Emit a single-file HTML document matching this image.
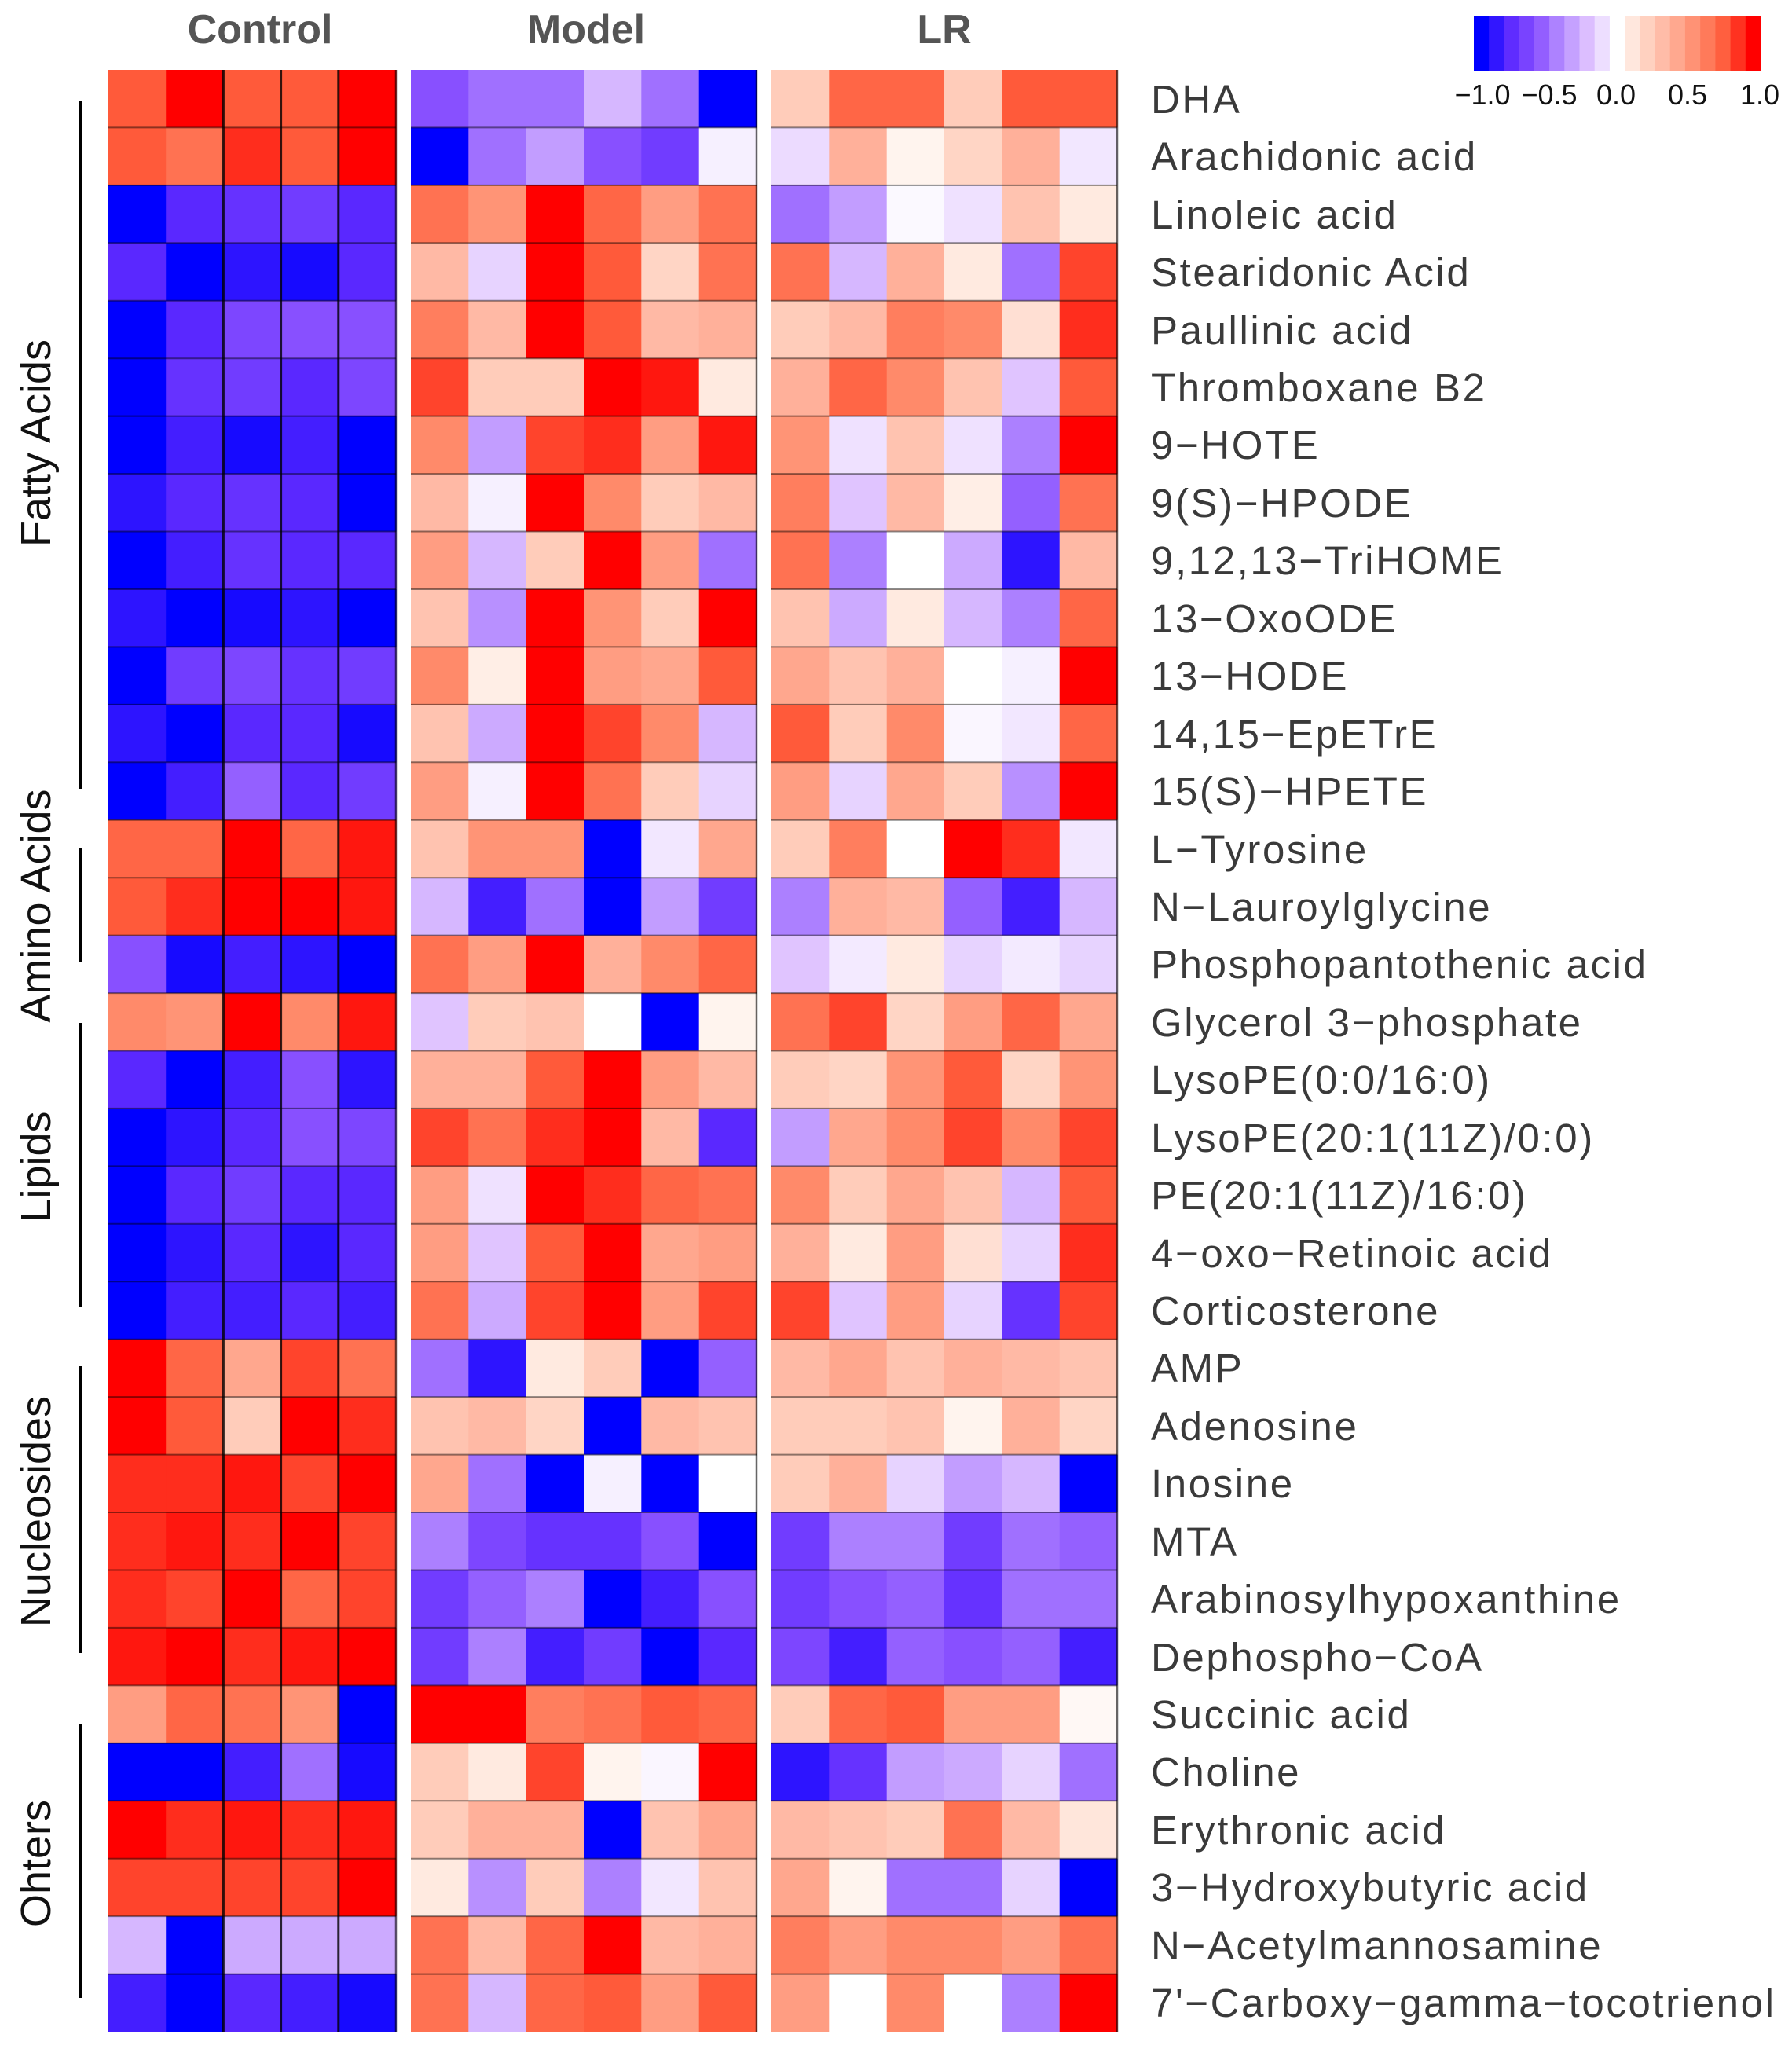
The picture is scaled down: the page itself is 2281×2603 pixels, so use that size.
<!DOCTYPE html>
<html><head><meta charset="utf-8">
<style>
html,body{margin:0;padding:0;background:#fff;}
#wrap{position:relative;width:2281px;height:2603px;overflow:hidden;font-family:"Liberation Sans",sans-serif;}
.lab{position:absolute;left:1465px;font-size:51px;letter-spacing:2.6px;color:#3a3a3a;line-height:1;white-space:nowrap;}
.ttl{position:absolute;top:8px;font-size:52px;font-weight:bold;color:#555;transform:translateX(-50%);}
.grp{position:absolute;left:46px;font-size:54px;color:#111;white-space:nowrap;transform:translate(-50%,-50%) rotate(-90deg);}
.tick{position:absolute;top:100px;font-size:36px;color:#111;transform:translateX(-50%);}
</style></head><body>
<div id="wrap">
<svg id="sv" width="2281" height="2603" style="position:absolute;left:0;top:0"></svg>
<div class="ttl" style="left:331px">Control</div>
<div class="ttl" style="left:746px">Model</div>
<div class="ttl" style="left:1202px">LR</div>
<div class="tick" style="left:1887px">−1.0</div>
<div class="tick" style="left:1972px">−0.5</div>
<div class="tick" style="left:2057px">0.0</div>
<div class="tick" style="left:2148px">0.5</div>
<div class="tick" style="left:2240px">1.0</div>
<div class="grp" style="top:564px">Fatty Acids</div>
<div class="grp" style="top:1153px">Amino Acids</div>
<div class="grp" style="top:1485px">Lipids</div>
<div class="grp" style="top:1924px">Nucleosides</div>
<div class="grp" style="top:2372px">Ohters</div>
<div id="labs">
<div class="lab" style="top:101px">DHA</div>
<div class="lab" style="top:174px">Arachidonic acid</div>
<div class="lab" style="top:248px">Linoleic acid</div>
<div class="lab" style="top:321px">Stearidonic Acid</div>
<div class="lab" style="top:395px">Paullinic acid</div>
<div class="lab" style="top:468px">Thromboxane B2</div>
<div class="lab" style="top:541px">9−HOTE</div>
<div class="lab" style="top:615px">9(S)−HPODE</div>
<div class="lab" style="top:688px">9,12,13−TriHOME</div>
<div class="lab" style="top:762px">13−OxoODE</div>
<div class="lab" style="top:835px">13−HODE</div>
<div class="lab" style="top:909px">14,15−EpETrE</div>
<div class="lab" style="top:982px">15(S)−HPETE</div>
<div class="lab" style="top:1056px">L−Tyrosine</div>
<div class="lab" style="top:1129px">N−Lauroylglycine</div>
<div class="lab" style="top:1202px">Phosphopantothenic acid</div>
<div class="lab" style="top:1276px">Glycerol 3−phosphate</div>
<div class="lab" style="top:1349px">LysoPE(0:0/16:0)</div>
<div class="lab" style="top:1423px">LysoPE(20:1(11Z)/0:0)</div>
<div class="lab" style="top:1496px">PE(20:1(11Z)/16:0)</div>
<div class="lab" style="top:1570px">4−oxo−Retinoic acid</div>
<div class="lab" style="top:1643px">Corticosterone</div>
<div class="lab" style="top:1716px">AMP</div>
<div class="lab" style="top:1790px">Adenosine</div>
<div class="lab" style="top:1863px">Inosine</div>
<div class="lab" style="top:1937px">MTA</div>
<div class="lab" style="top:2010px">Arabinosylhypoxanthine</div>
<div class="lab" style="top:2084px">Dephospho−CoA</div>
<div class="lab" style="top:2157px">Succinic acid</div>
<div class="lab" style="top:2230px">Choline</div>
<div class="lab" style="top:2304px">Erythronic acid</div>
<div class="lab" style="top:2377px">3−Hydroxybutyric acid</div>
<div class="lab" style="top:2451px">N−Acetylmannosamine</div>
<div class="lab" style="top:2524px">7'−Carboxy−gamma−tocotrienol</div>
</div>
</div>
<script>
(function(){
var D=[
[.8,1,.8,.8,1,-.6,-.5,-.5,-.25,-.5,-1,.25,.75,.75,.25,.8,.8],
[.8,.7,.9,.8,1,-1,-.5,-.35,-.6,-.7,-.05,-.12,.4,.05,.2,.4,-.08],
[-1,-.8,-.75,-.7,-.8,.7,.55,1,.75,.5,.7,-.5,-.35,-.02,-.1,.3,.1],
[-.8,-1,-.9,-.95,-.8,.35,-.15,1,.8,.2,.7,.7,-.25,.4,.1,-.5,.85],
[-1,-.8,-.65,-.6,-.6,.65,.35,1,.8,.35,.4,.25,.35,.65,.6,.15,.9],
[-1,-.75,-.7,-.8,-.65,.85,.25,.25,1,.95,.1,.4,.75,.6,.3,-.2,.8],
[-1,-.85,-.95,-.85,-1,.6,-.35,.85,.9,.5,.95,.55,-.1,.3,-.1,-.45,1],
[-.9,-.8,-.75,-.8,-1,.35,-.05,1,.6,.25,.35,.65,-.2,.35,.08,-.55,.7],
[-1,-.85,-.75,-.8,-.8,.5,-.25,.25,1,.5,-.5,.7,-.45,0,-.3,-.9,.35],
[-.9,-1,-.95,-.9,-1,.3,-.4,1,.55,.25,1,.3,-.3,.1,-.25,-.45,.75],
[-1,-.7,-.65,-.75,-.7,.6,.08,1,.5,.45,.8,.45,.3,.4,0,-.05,1],
[-.9,-1,-.8,-.8,-.95,.3,-.3,1,.85,.6,-.25,.8,.25,.6,-.03,-.08,.75],
[-1,-.85,-.55,-.8,-.7,.5,-.05,1,.7,.25,-.15,.5,-.15,.45,.25,-.4,1],
[.75,.75,1,.75,.95,.3,.55,.55,-1,-.08,.45,.25,.65,0,1,.9,-.08],
[.8,.9,1,1,.95,-.25,-.85,-.5,-1,-.35,-.7,-.45,.4,.35,-.55,-.85,-.25],
[-.6,-.95,-.85,-.9,-1,.7,.5,1,.4,.6,.75,-.2,-.07,.1,-.15,-.07,-.15],
[.6,.55,1,.6,.95,-.2,.25,.3,0,-1,.05,.7,.85,.2,.5,.75,.45],
[-.8,-1,-.85,-.6,-.9,.4,.4,.8,1,.5,.35,.25,.2,.55,.8,.2,.55],
[-1,-.9,-.8,-.6,-.65,.85,.7,.9,1,.35,-.8,-.35,.45,.6,.85,.6,.85],
[-1,-.8,-.7,-.8,-.8,.5,-.1,1,.9,.75,.7,.6,.25,.45,.3,-.25,.8],
[-1,-.9,-.8,-.9,-.8,.5,-.2,.8,1,.45,.5,.4,.1,.5,.15,-.15,.9],
[-1,-.85,-.85,-.8,-.85,.7,-.3,.85,1,.5,.85,.85,-.2,.5,-.15,-.75,.85],
[1,.75,.45,.85,.7,-.5,-.9,.1,.25,-1,-.55,.35,.45,.3,.4,.35,.3],
[1,.8,.25,1,.9,.3,.35,.2,-1,.35,.3,.25,.25,.3,.05,.4,.2],
[.9,.9,.95,.85,1,.45,-.5,-1,-.05,-1,0,.25,.4,-.15,-.35,-.25,-1],
[.9,.95,.9,1,.85,-.45,-.65,-.75,-.75,-.6,-1,-.7,-.45,-.45,-.7,-.5,-.55],
[.9,.85,1,.75,.85,-.7,-.55,-.45,-1,-.85,-.6,-.7,-.6,-.55,-.75,-.5,-.5],
[.95,1,.9,.95,1,-.7,-.45,-.85,-.7,-1,-.8,-.65,-.85,-.55,-.6,-.55,-.85],
[.5,.75,.7,.55,-1,1,1,.65,.7,.8,.75,.25,.75,.8,.5,.5,.03],
[-1,-1,-.85,-.5,-.95,.25,.1,.85,.05,-.03,1,-.9,-.75,-.35,-.3,-.15,-.5],
[1,.9,.95,.9,.95,.25,.4,.4,-1,.3,.45,.35,.3,.25,.7,.35,.12],
[.85,.85,.85,.85,1,.1,-.4,.25,-.45,-.08,.3,.45,.05,-.5,-.5,-.15,-1],
[-.25,-1,-.3,-.3,-.3,.7,.35,.75,1,.35,.4,.65,.5,.6,.6,.5,.7],
[-.85,-1,-.8,-.85,-.95,.7,-.25,.75,.8,.5,.8,.5,0,.6,0,-.45,1]];
var stops=[[-1,[0,0,255]],[-.8,[90,40,255]],[-.6,[136,80,255]],[-.4,[184,144,255]],[-.2,[224,196,255]],[-.05,[246,240,255]],[0,[255,255,255]],[.05,[255,244,238]],[.2,[255,213,197]],[.4,[255,176,154]],[.6,[255,138,106]],[.8,[255,90,58]],[1,[255,0,0]]];
function col(v){for(var i=0;i<stops.length-1;i++){var a=stops[i],b=stops[i+1];if(v<=b[0]){var t=(v-a[0])/(b[0]-a[0]);var c=a[1].map(function(x,k){return Math.round(x+(b[1][k]-x)*t)});return 'rgb('+c.join(',')+')';}}return 'rgb(255,0,0)';}
var s='';var y0=89,rh=(2586-89)/34;
var panels=[[138,504,5,0],[523,963,6,5],[982,1422,6,11]];
panels.forEach(function(p){var cw=(p[1]-p[0])/p[2];
for(var r=0;r<34;r++)for(var c=0;c<p[2];c++){var x=p[0]+c*cw,y=y0+r*rh;s+='<rect x="'+x.toFixed(1)+'" y="'+y.toFixed(1)+'" width="'+(cw+0.6).toFixed(1)+'" height="'+(rh+0.6).toFixed(1)+'" fill="'+col(D[r][p[3]+c])+'"/>';}
for(var r=1;r<34;r++){var y=y0+r*rh;s+='<line x1="'+p[0]+'" x2="'+p[1]+'" y1="'+y.toFixed(1)+'" y2="'+y.toFixed(1)+'" stroke="rgba(0,0,0,0.45)" stroke-width="2"/>';}
s+='<line x1="'+p[1]+'" x2="'+p[1]+'" y1="89" y2="2586" stroke="rgba(0,0,0,0.6)" stroke-width="2.5"/>';
});
[2,3,4].forEach(function(c){var x=138+c*73.2;s+='<line x1="'+x+'" x2="'+x+'" y1="89" y2="2586" stroke="rgba(0,0,0,0.8)" stroke-width="3"/>';});
[[129,1004],[1080,1224],[1302,1664],[1739,2104],[2195,2543]].forEach(function(g){s+='<line x1="103" x2="103" y1="'+g[0]+'" y2="'+g[1]+'" stroke="#000" stroke-width="4"/>';});
var bw=(2241-1876)/19;
for(var i=0;i<19;i++){s+='<rect x="'+(1876+i*bw).toFixed(1)+'" y="21" width="'+(bw+0.6).toFixed(1)+'" height="70" fill="'+col(-1+i*2/18)+'"/>';}
document.getElementById('sv').innerHTML=s;
})();
</script>
</body></html>
